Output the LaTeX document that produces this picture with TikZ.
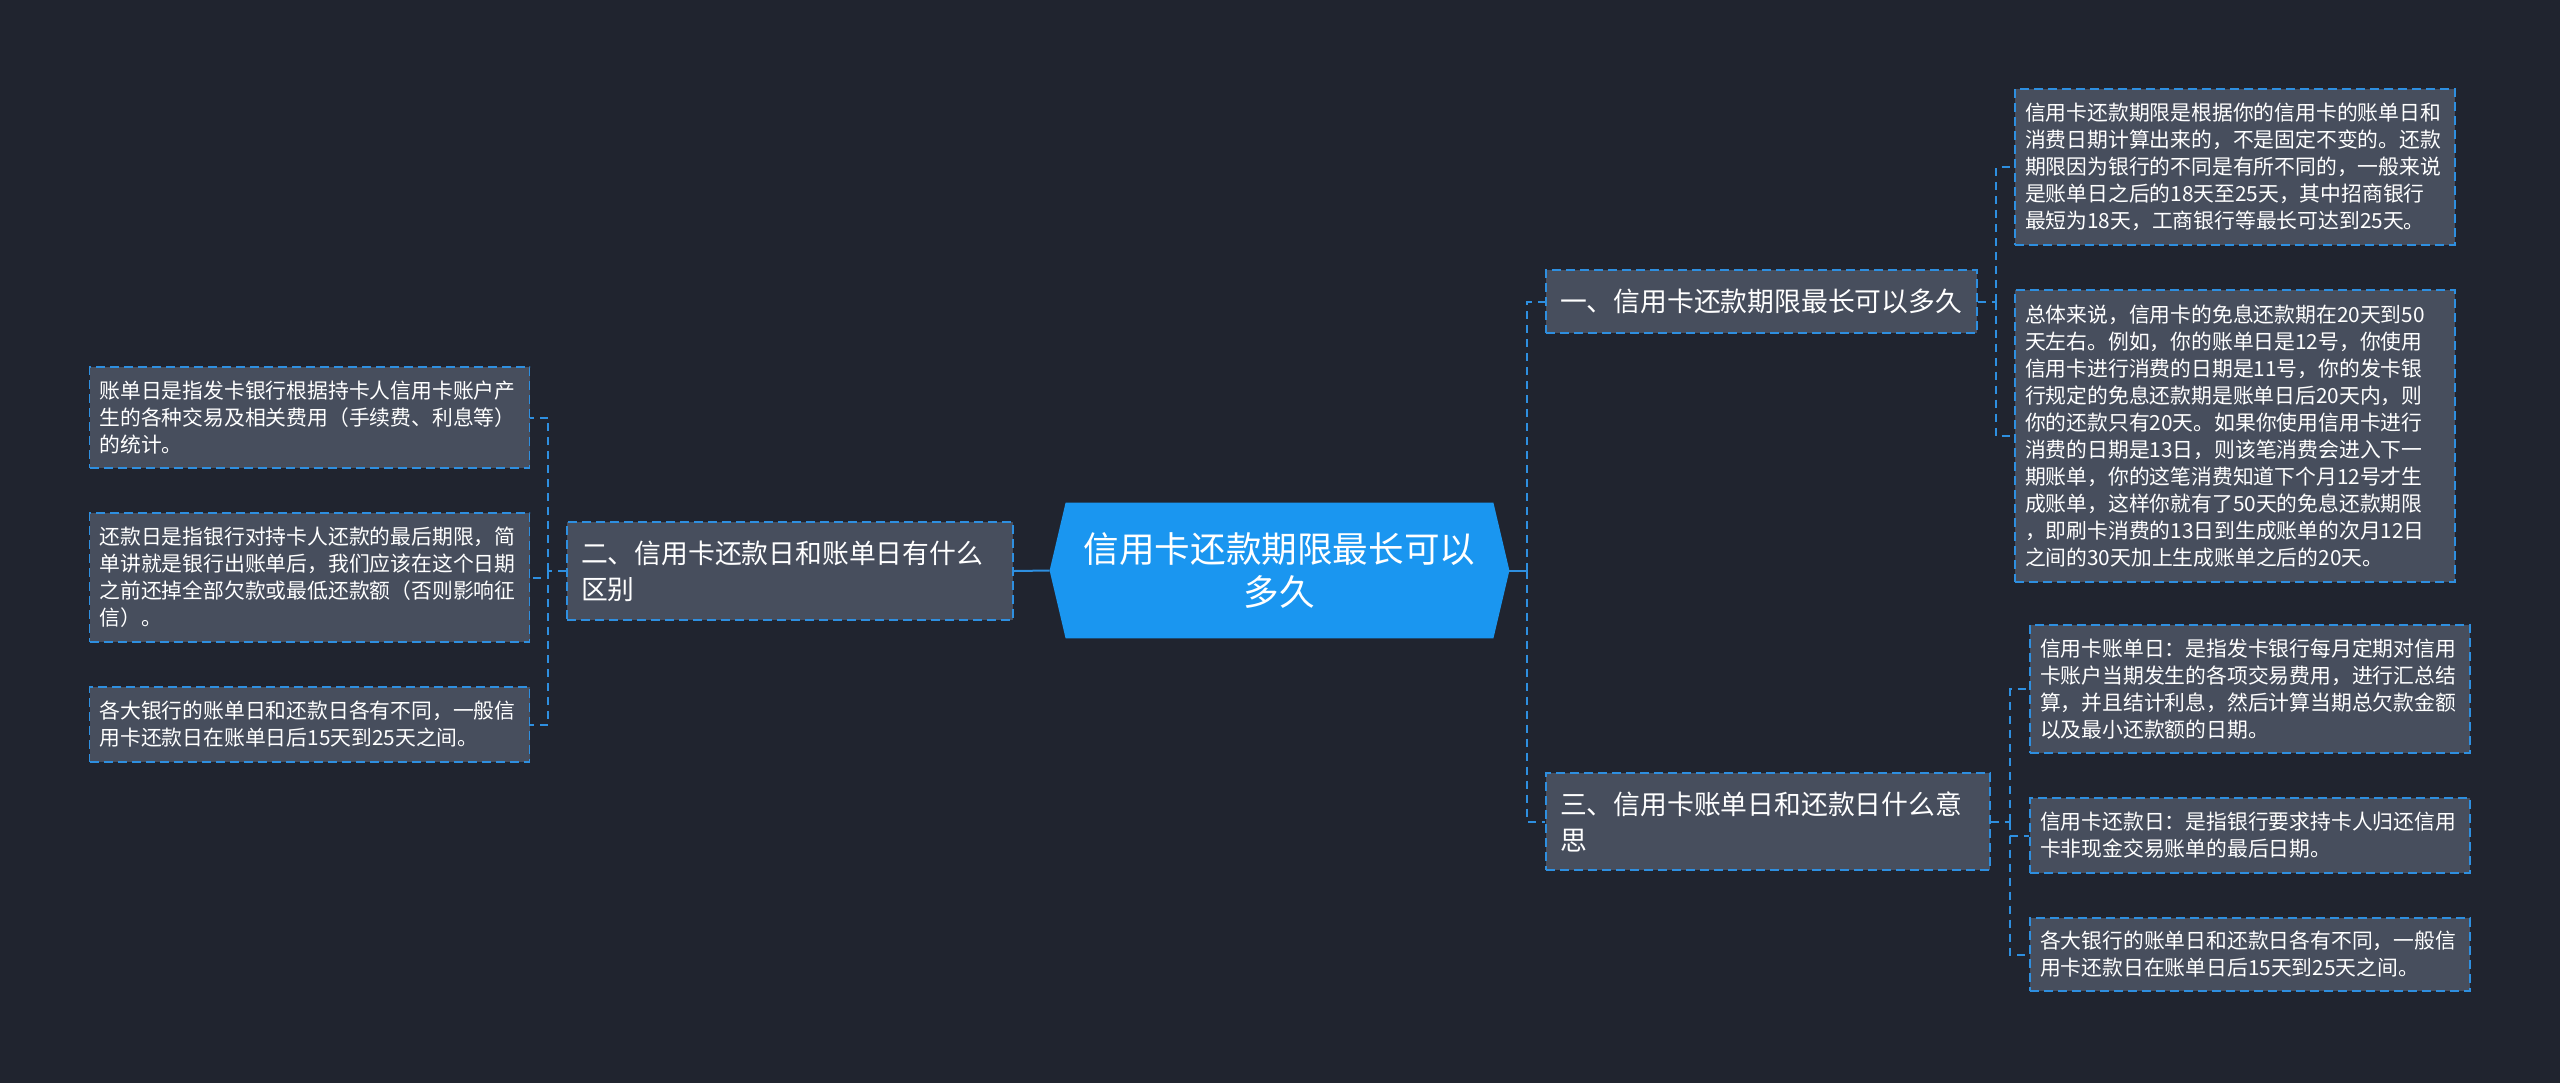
\documentclass[tikz,border=0pt]{standalone}
\usepackage{fontspec}
\setmainfont{Noto Sans CJK SC}
\usetikzlibrary{backgrounds}
\setlength{\parindent}{0pt}
\definecolor{bgnavy}{HTML}{20242F}
\definecolor{boxgray}{HTML}{474E5D}
\definecolor{linkblue}{HTML}{2E8FE0}
\definecolor{rootblue}{HTML}{1A96F0}
\newcommand{\leaffont}{\fontsize{10.4pt}{13.5pt}\selectfont}
\newcommand{\branchfont}{\fontsize{13.4pt}{18pt}\selectfont}
\newcommand{\rootfont}{\fontsize{17.8pt}{21.5pt}\selectfont}

\begin{document}
\begin{tikzpicture}[x=0.5pt, y=-0.5pt,
  leafbox/.style={draw=linkblue, fill=boxgray, text=white, font=\leaffont,
    dash pattern=on 4.5pt off 2.5pt, line width=0.9pt, align=left,
    text width=210pt, inner xsep=5pt, inner ysep=0pt},
  branchbox/.style={draw=linkblue, fill=boxgray, text=white, font=\branchfont,
    dash pattern=on 4.5pt off 2.5pt, line width=0.9pt, align=left,
    inner xsep=7pt, inner ysep=0pt},
  rootbox/.style={text=white, font=\rootfont, align=center,
    minimum width=229.5pt, minimum height=67.5pt, inner sep=0pt},
  link/.style={draw=linkblue, line width=1pt, dash pattern=on 4pt off 3pt},
  rootlink/.style={draw=linkblue, line width=1pt}]
  \useasboundingbox (0,0) rectangle (2560,1083);

  % centre topic
  \node[rootbox] (root) at (1279.5,570.5) {信用卡还款期限最长可以\\多久};

  % branches
  \node[branchbox, text width=201.5pt, minimum height=31.5pt] (b1) at (1761.5,301.5)
    {一、信用卡还款期限最长可以多久};
  \node[branchbox, text width=209pt, minimum height=49pt] (b2) at (790,571)
    {二、信用卡还款日和账单日有什么\\区别};
  \node[branchbox, text width=208pt, minimum height=48.5pt] (b3) at (1768,821.5)
    {三、信用卡账单日和还款日什么意\\思};

  % left leaves
  \node[leafbox, minimum height=50.5pt] (l1) at (309.5,417.5)
    {账单日是指发卡银行根据持卡人信用卡账户产\\生的各种交易及相关费用（手续费、利息等）\\的统计。};
  \node[leafbox, minimum height=64.5pt] (l2) at (309.5,577.5)
    {还款日是指银行对持卡人还款的最后期限，简\\单讲就是银行出账单后，我们应该在这个日期\\之前还掉全部欠款或最低还款额（否则影响征\\信）。};
  \node[leafbox, minimum height=37.5pt] (l3) at (309.5,724.5)
    {各大银行的账单日和还款日各有不同，一般信\\用卡还款日在账单日后15天到25天之间。};

  % right leaves
  \node[leafbox, minimum height=78pt] (r1) at (2235,167)
    {信用卡还款期限是根据你的信用卡的账单日和\\消费日期计算出来的，不是固定不变的。还款\\期限因为银行的不同是有所不同的，一般来说\\是账单日之后的18天至25天，其中招商银行\\最短为18天，工商银行等最长可达到25天。};
  \node[leafbox, minimum height=146pt] (r2) at (2235,436)
    {总体来说，信用卡的免息还款期在20天到50\\天左右。例如，你的账单日是12号，你使用\\信用卡进行消费的日期是11号，你的发卡银\\行规定的免息还款期是账单日后20天内，则\\你的还款只有20天。如果你使用信用卡进行\\消费的日期是13日，则该笔消费会进入下一\\期账单，你的这笔消费知道下个月12号才生\\成账单，这样你就有了50天的免息还款期限\\，即刷卡消费的13日到生成账单的次月12日\\之间的30天加上生成账单之后的20天。};
  \node[leafbox, minimum height=64pt] (r3) at (2250,689)
    {信用卡账单日：是指发卡银行每月定期对信用\\卡账户当期发生的各项交易费用，进行汇总结\\算，并且结计利息，然后计算当期总欠款金额\\以及最小还款额的日期。};
  \node[leafbox, minimum height=37.5pt] (r4) at (2250,835.5)
    {信用卡还款日：是指银行要求持卡人归还信用\\卡非现金交易账单的最后日期。};
  \node[leafbox, minimum height=36.5pt] (r5) at (2250,954.5)
    {各大银行的账单日和还款日各有不同，一般信\\用卡还款日在账单日后15天到25天之间。};

  % junctions
  \coordinate (jr) at (1527,570.5);
  \coordinate (jl) at (548,571);
  \coordinate (j1) at (1996,301.5);
  \coordinate (j3) at (2010,821.5);

  % connectors
  \draw[rootlink] (root.west) -- (b2.east);
  \draw[rootlink] (root.east) -- (jr);
  \draw[link] (jr) |- (b1.west);
  \draw[link] (jr) |- (b3.west);
  \draw[link] (b2.west) -- (jl);
  \draw[link] (jl) |- (l1.east);
  \draw[link] (jl) |- (l2.east);
  \draw[link] (jl) |- (l3.east);
  \draw[link] (b1.east) -- (j1);
  \draw[link] (j1) |- (r1.west);
  \draw[link] (j1) |- (r2.west);
  \draw[link] (b3.east) -- (j3);
  \draw[link] (j3) |- (r3.west);
  \draw[link] (j3) |- (r4.west);
  \draw[link] (j3) |- (r5.west);

  % page and centre shape behind the text
  \begin{scope}[on background layer]
    \fill[bgnavy] (0,0) rectangle (2560,1083);
    \fill[rootblue] ([xshift=8pt]root.north west) -- (root.west)
      -- ([xshift=8pt]root.south west) -- ([xshift=-8pt]root.south east)
      -- (root.east) -- ([xshift=-8pt]root.north east) -- cycle;
  \end{scope}
\end{tikzpicture}
\end{document}
